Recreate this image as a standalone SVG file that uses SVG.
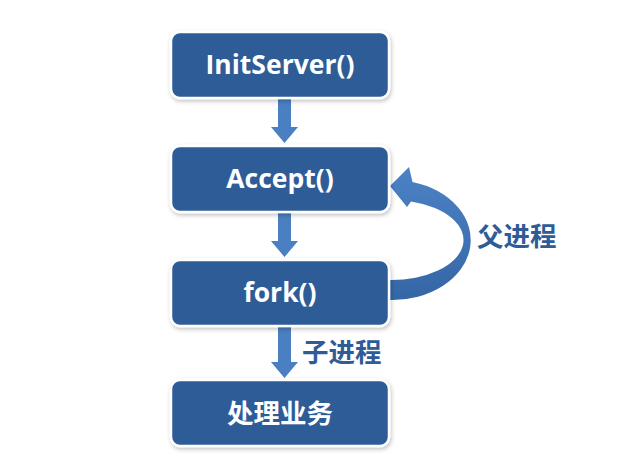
<svg xmlns="http://www.w3.org/2000/svg" width="623" height="472" viewBox="0 0 623 472">
<defs>
<filter id="sh" x="-10%" y="-20%" width="120%" height="150%">
<feDropShadow dx="1" dy="2" stdDeviation="2" flood-color="#000" flood-opacity="0.25"/>
</filter>
<linearGradient id="cg" x1="0" y1="0" x2="0" y2="1">
<stop offset="0" stop-color="#4C82C6"/>
<stop offset="1" stop-color="#3566A6"/>
</linearGradient>
</defs>
<style>
.box{fill:#2F5C97;stroke:#fff;stroke-width:2.5;filter:url(#sh)}
.t{fill:#fff;font-family:"Open Sans","Noto Sans","Noto Sans CJK SC",sans-serif;font-weight:bold;font-size:26.5px;text-anchor:middle}
.lbl{fill:#2F5C97;font-family:"Noto Sans CJK SC",sans-serif;font-weight:bold;font-size:26.5px}
.arr{fill:#4A7FC1}
</style>
<rect width="623" height="472" fill="#fff"/>
<g id="connectors">
<path class="arr" d="M278,99 H291 V127 H298 L284.5,143 L271,127 H278 Z"/>
<path class="arr" d="M278,213 H291 V241 H298 L284.5,257 L271,241 H278 Z"/>
<path class="arr" d="M278,327 H291 V362 H298 L284.5,378 L271,362 H278 Z"/>
<path fill="url(#cg)" d="M390,300 A78,60 0 0 0 412.5,182 L409,167 L390,186 L407,207 L411,201.5 A72,40 0 0 1 390,280 Z"/>
<text class="lbl" x="477" y="246">父进程</text>
<text class="lbl" x="302" y="362">子进程</text>
</g>
<g id="n1"><rect class="box" x="171" y="32" width="218" height="66" rx="9"/><text class="t" x="280" y="74">InitServer()</text></g>
<g id="n2"><rect class="box" x="171" y="146" width="218" height="66" rx="9"/><text class="t" x="280" y="188">Accept()</text></g>
<g id="n3"><rect class="box" x="171" y="260" width="218" height="66" rx="9"/><text class="t" x="280" y="302">fork()</text></g>
<g id="n4"><rect class="box" x="171" y="380" width="218" height="66" rx="9"/><text class="t" x="280" y="423">处理业务</text></g>
</svg>
